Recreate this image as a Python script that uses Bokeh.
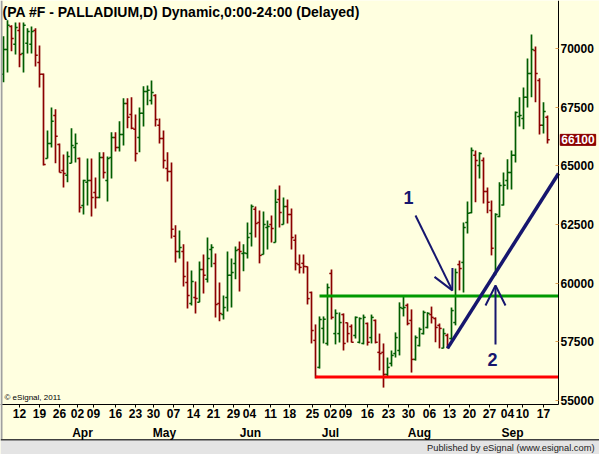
from bokeh.plotting import figure
from bokeh.models import (ColumnDataSource, FixedTicker, Label, Arrow, LinearAxis,
                          OpenHead, BoxAnnotation, Range1d, NumeralTickFormatter)
from bokeh.embed import file_html
from bokeh.resources import INLINE

# ---------------- data (daily OHLC, PALLADIUM futures) ----------------
opens = [
    68890, 69950, 70930, 70170, 70760, 69780, 70210, 70170, 70760, 69400,
    68890, 65310, 65950, 67140, 65900, 64800, 64590, 65100, 65780, 65310,
    63310, 64290, 64370, 63860, 63650, 65350, 64370, 65350, 66200, 65780,
    66330, 67650, 67180, 66550, 66200, 67230, 68160, 67780, 67990, 66720,
    66160, 64880, 64750, 61990, 61350, 61350, 60030, 59130, 59390, 59180,
    60580, 60160, 61430, 60840, 59130, 58660, 59390, 60330, 60840, 61430,
    61260, 61260, 62110, 63140, 62580, 61220, 62370, 62500, 61730, 63560,
    62500, 63260, 62920, 61820, 60790, 60840, 60700, 59600, 57560, 56410,
    58070, 57430, 60410, 57850, 57850, 58660, 58310, 58150, 57770, 57480,
    57430, 58280, 57680, 58410, 57050, 57050, 56110, 56580, 57000, 57130,
    58920, 59050, 58410, 56750, 57340, 57850, 58110, 58660, 58490, 58200,
    57230, 57770, 57640, 58320, 60790, 60880, 62580, 63000, 65440, 65010,
    65220, 63900, 63090, 60410, 62840, 63330, 64370, 64710, 65440, 67100,
    67010, 67910, 68930, 69910, 68630, 66720, 67060]
highs = [
    70510, 71190, 70980, 71100, 71100, 71100, 70850, 70930, 70850, 70120,
    68930, 66500, 67480, 67400, 65950, 65480, 65610, 66590, 66370, 65350,
    64400, 65310, 65310, 64500, 65570, 65570, 65390, 66420, 66420, 66890,
    67870, 67870, 67910, 67180, 67480, 68380, 68420, 68630, 68040, 67010,
    66500, 65570, 65140, 62460, 62240, 61650, 60920, 60540, 60070, 60920,
    61220, 61940, 61650, 61260, 60030, 59470, 61350, 61050, 61560, 61770,
    61650, 62580, 63350, 63260, 63090, 63050, 62670, 62880, 63990, 64160,
    63650, 63560, 63180, 62070, 61220, 61220, 60710, 59640, 58240, 58580,
    58580, 59980, 60580, 58880, 58750, 58710, 58320, 58240, 58580, 58540,
    58660, 58320, 58660, 58450, 57850, 57430, 56830, 57130, 57900, 59180,
    59420, 59130, 58880, 57770, 58110, 58830, 58760, 59000, 58540, 58280,
    58070, 57850, 58960, 60620, 60960, 62580, 63480, 65780, 65650, 65570,
    65350, 64070, 63520, 62970, 64290, 64710, 65270, 65650, 67310, 67910,
    68330, 69570, 70590, 70080, 68720, 67700, 67140]
lows = [
    68550, 68970, 69870, 69740, 69190, 68970, 69780, 69780, 69230, 68330,
    65010, 65310, 65780, 65100, 64710, 64070, 64290, 65100, 65140, 63010,
    62920, 63310, 62840, 63180, 63610, 64460, 63480, 64460, 65610, 65610,
    65860, 66590, 66550, 65180, 65570, 66670, 67570, 67610, 66670, 65950,
    64880, 64330, 61900, 60880, 61050, 59860, 58920, 59050, 58710, 59180,
    59560, 60030, 60670, 58540, 58370, 58450, 58790, 58960, 60160, 59640,
    60500, 61050, 61560, 61940, 60840, 61220, 61430, 61730, 61730, 62370,
    62500, 62540, 61430, 60540, 60410, 60410, 59090, 57430, 55940, 56360,
    57430, 57340, 58450, 57390, 57470, 57130, 57470, 57470, 57640, 57430,
    57390, 57340, 57430, 57430, 56280, 55550, 55980, 56450, 56830, 56920,
    58580, 58200, 56190, 56700, 57300, 57810, 58070, 58280, 57480, 57220,
    57220, 57220, 57560, 58200, 59690, 59600, 62110, 62970, 63440, 64460,
    63390, 62970, 61180, 60330, 62800, 63310, 63990, 63990, 65140, 66670,
    66550, 67480, 67910, 67700, 66330, 66370, 65950]
closes = [
    69950, 70980, 70420, 70890, 69740, 70980, 70720, 70720, 69700, 68890,
    65050, 65950, 66890, 66250, 64710, 64670, 65390, 65860, 65950, 63220,
    64370, 64370, 63650, 63650, 65350, 64710, 65310, 66200, 65780, 66330,
    67650, 67060, 66590, 65520, 67230, 68160, 68210, 68120, 66970, 66160,
    65220, 64750, 62290, 61350, 61520, 60280, 59470, 60070, 59340, 60580,
    60330, 61050, 61520, 59090, 58710, 58960, 60330, 60450, 61390, 61350,
    61280, 61940, 63260, 62540, 61180, 62500, 62410, 62330, 63440, 63010,
    63260, 62920, 61940, 60840, 60670, 60710, 59340, 57980, 56020, 58450,
    58460, 59810, 58540, 58710, 58320, 57430, 57850, 57480, 58540, 58490,
    58540, 57480, 58540, 57480, 57000, 56110, 56410, 56920, 57680, 58960,
    58960, 58280, 56750, 57680, 58030, 58750, 58710, 58540, 58110, 58070,
    57850, 57260, 58830, 60450, 60620, 62370, 62970, 65650, 65220, 65520,
    63900, 63440, 61480, 62920, 64160, 64170, 64710, 65440, 67270, 67140,
    67910, 68930, 69950, 68930, 66720, 67310, 66100]

week_ticks = [4, 9, 14, 18.5, 22.5, 28, 33, 37.5, 42.5, 47.5, 52.5, 57.5, 61.5, 66.75,
              71.5, 77.25, 81.75, 85.5, 91, 96.25, 101.25, 106.5, 111.5, 116.5, 121.5,
              126, 129.75, 135]
week_labels = ["12", "19", "26", "02", "09", "16", "23", "30", "07", "14", "21", "29",
               "04", "11", "18", "25", "02", "09", "16", "23", "30", "06", "13", "20",
               "27", "04", "10", "17"]
month_ticks = [19.75, 40.25, 61.75, 81.75, 104, 127.25]
month_labels = ["Apr", "May", "Jun", "Jul", "Aug", "Sep"]
price_ticks = [55000, 57500, 60000, 62500, 65000, 67500, 70000]
last_price = 66100

support_level = 56000
support_start = 78
resistance_level = 59450
resistance_start = 79
trend_x = [111, 138.75]
trend_y = [57220, 64670]

arrow1 = dict(x_start=103, y_start=62880, x_end=112.2, y_end=59690)
arrow2 = dict(x_start=123, y_start=57390, x_end=123, y_end=59900)
label1 = (101.25, 63650)
label2 = (122.25, 56750)

# ---------------- geometry / styling ----------------
PX = 2500 / 58.7              # price units per pixel
Y_TOP = 55000 + 400 * PX      # top of canvas
Y_AXIS = 55000 - 4 * PX       # where the time axis sits
Y_BOT = 55000 - 54 * PX       # bottom of canvas
X_LEFT, X_AXIS, X_RIGHT = -0.75, 138.75, 149.0

FONT = "Liberation Sans"
BG = "#FFFFE0"
UP = "#005C00"
DOWN = "#8B0000"
NAVY = "#16166E"

n = len(closes)
xs = list(range(n))
colors = [UP if c >= o else DOWN for o, c in zip(opens, closes)]
src = ColumnDataSource(dict(
    x=xs, xl=[x - 0.55 for x in xs], xr=[x + 0.55 for x in xs],
    o=opens, h=highs, l=lows, c=closes, color=colors))

p = figure(width=599, height=454, x_range=Range1d(X_LEFT, X_RIGHT),
           y_range=Range1d(Y_BOT, Y_TOP), x_axis_location=None, y_axis_location=None,
           toolbar_location=None, output_backend="svg", min_border=0,
           background_fill_color=BG, border_fill_color=BG, outline_line_color=None)
p.grid.visible = False

# bottom band and left border
p.add_layout(BoxAnnotation(left=0, right=599, bottom=0, top=15, left_units="screen",
                           right_units="screen", bottom_units="screen", top_units="screen",
                           fill_color="#E4E4E4", fill_alpha=1, line_color=None))
p.add_layout(BoxAnnotation(left=0, right=599, bottom=14, top=15.5, left_units="screen",
                           right_units="screen", bottom_units="screen", top_units="screen",
                           fill_color="#404040", fill_alpha=1, line_color=None))
p.add_layout(BoxAnnotation(left=0, right=2, bottom=15.5, top=454, left_units="screen",
                           right_units="screen", bottom_units="screen", top_units="screen",
                           fill_color="#A0A0A0", fill_alpha=1, line_color=None))

# OHLC bars
p.segment(x0="x", y0="l", x1="x", y1="h", color="color", line_width=1.7, source=src)
p.segment(x0="xl", y0="o", x1="x", y1="o", color="color", line_width=1.5, source=src)
p.segment(x0="x", y0="c", x1="xr", y1="c", color="color", line_width=1.5, source=src)

# support / resistance / trend
p.segment(x0=[support_start], y0=[support_level], x1=[X_AXIS], y1=[support_level],
          line_color="#FF0000", line_width=3)
p.segment(x0=[resistance_start], y0=[resistance_level], x1=[X_AXIS], y1=[resistance_level],
          line_color="#009A00", line_width=3)
p.line(x=trend_x, y=trend_y, line_color=NAVY, line_width=3.5)

for a in (arrow1, arrow2):
    p.add_layout(Arrow(end=OpenHead(size=20, line_color=NAVY, line_width=2),
                       line_color=NAVY, line_width=2, **a))

for txt, (lx, ly) in (("1", label1), ("2", label2)):
    p.add_layout(Label(x=lx, y=ly, text=txt, text_font=FONT, text_font_style="bold",
                       text_font_size="18px", text_color=NAVY,
                       text_align="center", text_baseline="middle"))

# time axis (weeks)
xa = LinearAxis(fixed_location=Y_AXIS, bounds=(X_LEFT, X_AXIS),
                ticker=FixedTicker(ticks=week_ticks),
                major_label_overrides={t: s for t, s in zip(week_ticks, week_labels)},
                minor_tick_line_color=None, major_tick_in=0, major_tick_out=3,
                major_tick_line_color="black", axis_line_color="black",
                major_label_standoff=1, major_label_text_font=FONT,
                major_label_text_font_style="bold", major_label_text_font_size="12px",
                major_label_text_color="black")
p.add_layout(xa, "below")

# month labels under the week labels
for t, s in zip(month_ticks, month_labels):
    p.add_layout(Label(x=t, y=22, y_units="screen", text=s, text_font=FONT,
                       text_font_style="bold", text_font_size="12px", text_color="black",
                       text_align="center", text_baseline="middle"))

# price axis (right)
ya = LinearAxis(fixed_location=X_AXIS, bounds=(Y_AXIS, Y_TOP),
                ticker=FixedTicker(ticks=price_ticks),
                formatter=NumeralTickFormatter(format="0"),
                minor_tick_line_color=None, major_tick_in=3, major_tick_out=0,
                major_tick_line_color="#E0A050", axis_line_color="black",
                major_label_standoff=2, major_label_text_font=FONT,
                major_label_text_font_style="bold", major_label_text_font_size="12px",
                major_label_text_color="black")
p.add_layout(ya, "right")

# last price marker
p.add_layout(Label(x=139.2, y=last_price, text=f"{last_price}", text_font=FONT,
                   text_font_style="bold", text_font_size="12px", text_color="white",
                   background_fill_color="#8B0000", background_fill_alpha=1.0,
                   border_line_color="#8B0000", padding=1, text_align="left",
                   text_baseline="middle"))

# title, copyright, publisher
p.add_layout(Label(x=2, y=443, x_units="screen", y_units="screen",
                   text="(PA #F - PALLADIUM,D) Dynamic,0:00-24:00 (Delayed)",
                   text_font=FONT, text_font_style="bold", text_font_size="14px",
                   text_color="black", text_baseline="middle"))
p.add_layout(Label(x=4, y=57, x_units="screen", y_units="screen",
                   text="\u00a9 eSignal, 2011", text_font=FONT, text_font_size="8px",
                   text_color="black", text_baseline="middle"))
p.add_layout(Label(x=594, y=7, x_units="screen", y_units="screen",
                   text="Published by eSignal (www.esignal.com)",
                   text_font=FONT, text_font_size="9.3px", text_color="#222222",
                   text_align="right", text_baseline="middle"))

open("out.html", "w").write(file_html(p, INLINE))
